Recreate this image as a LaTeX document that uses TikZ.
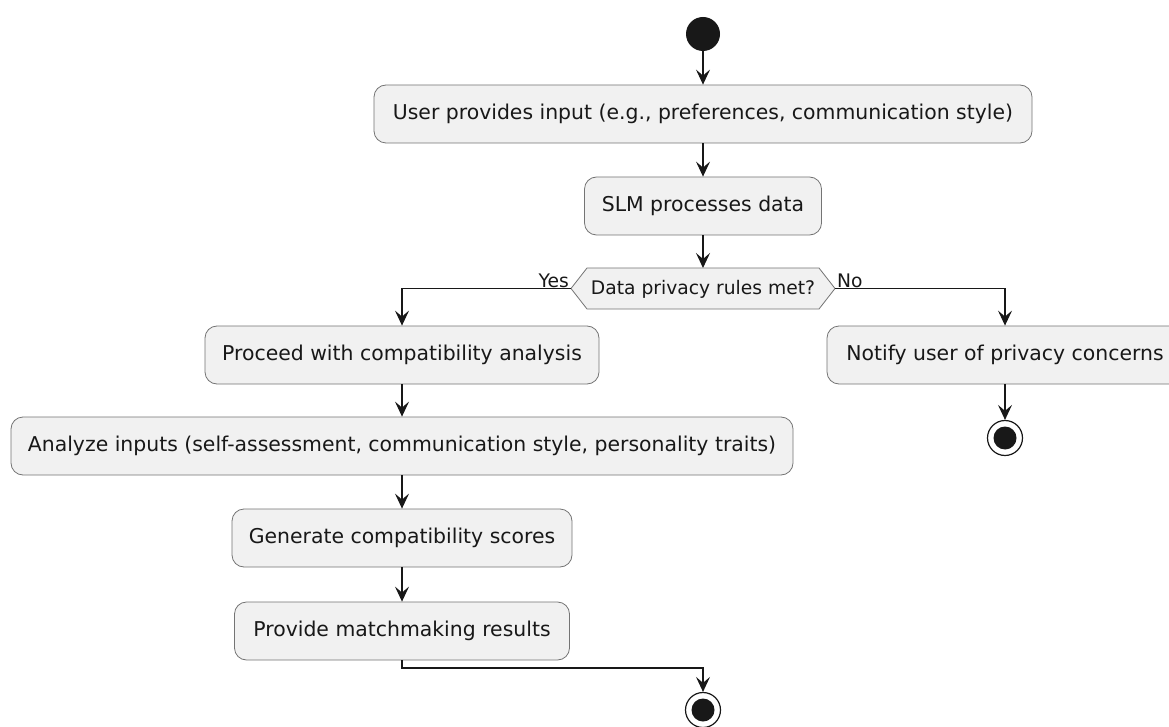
\documentclass[tikz,border=0pt]{standalone}
\usepackage{fontspec}
\setmainfont{DejaVu Sans}
\usetikzlibrary{arrows.meta,shapes.misc}
\definecolor{boxfill}{HTML}{F1F1F1}
\definecolor{ink}{HTML}{181818}
\tikzset{
  act/.style={draw=ink!60, line width=0.8pt, fill=boxfill, rounded corners=12pt, minimum height=58pt, font=\fontsize{20.4}{24}\selectfont, text=ink, inner xsep=0pt},
  flow/.style={draw=ink, line width=1.1pt, -{Stealth[length=15pt,width=14pt,inset=6pt]}},
  lbl/.style={font=\fontsize{18.7}{22}\selectfont, text=ink, inner sep=1pt},
}
\begin{document}
\begin{tikzpicture}[x=1pt,y=-1pt]
\useasboundingbox (0,0) rectangle (1169,727);
\fill[white] (0,0) rectangle (1169,727);
% start
\node[circle, fill=ink, minimum size=34pt, inner sep=0pt] (start) at (703,34) {};
\node[act, minimum width=658pt] (b1) at (703,114) {User provides input (e.g., preferences, communication style)};
\node[act, minimum width=237pt] (b2) at (703,206) {SLM processes data};
% decision hexagon
\draw[draw=ink!60, line width=0.8pt, fill=boxfill] (571,288.5) -- (587,268) -- (819,268) -- (835,288.5) -- (819,309) -- (587,309) -- cycle;
\node[font=\fontsize{18.7}{22}\selectfont, text=ink] (dec) at (703,289) {Data privacy rules met?};
\coordinate (dl) at (571,288.5);
\coordinate (dr) at (835,288.5);
\coordinate (dt) at (703,268);
% left branch
\node[act, minimum width=394pt] (b3) at (402,355) {Proceed with compatibility analysis};
\node[act, minimum width=782pt] (b4) at (402,446) {Analyze inputs (self-assessment, communication style, personality traits)};
\node[act, minimum width=340pt] (b5) at (402,538) {Generate compatibility scores};
\node[act, minimum width=335pt] (b6) at (402,631) {Provide matchmaking results};
% right branch
\node[act, minimum width=356pt] (n1) at (1005,355) {Notify user of privacy concerns};
% ends
\node[circle, draw=ink, line width=1.2pt, fill=white, minimum size=35pt, inner sep=0pt] (endR) at (1005,438) {};
\fill[ink] (endR.center) circle (11.5pt);
\node[circle, draw=ink, line width=1.2pt, fill=white, minimum size=35pt, inner sep=0pt] (endL) at (703,710) {};
\fill[ink] (endL.center) circle (11.5pt);
% arrows
\draw[flow] (start) -- (b1);
\draw[flow] (b1) -- (b2);
\draw[flow] (b2) -- (dt);
\draw[flow] (dl) -| (b3.north);
\draw[flow] (dr) -| (n1.north);
\draw[flow] (b3) -- (b4);
\draw[flow] (b4) -- (b5);
\draw[flow] (b5) -- (b6);
\draw[flow] (n1) -- (endR);
\coordinate (j) at (402,668);
\draw[flow] (b6.south) -- (j) -| (endL.north);
% labels
\node[lbl, anchor=south east] (yes) at (570,289) {Yes};
\node[lbl, anchor=south west] (no) at (836,289) {No};
\end{tikzpicture}
\end{document}
